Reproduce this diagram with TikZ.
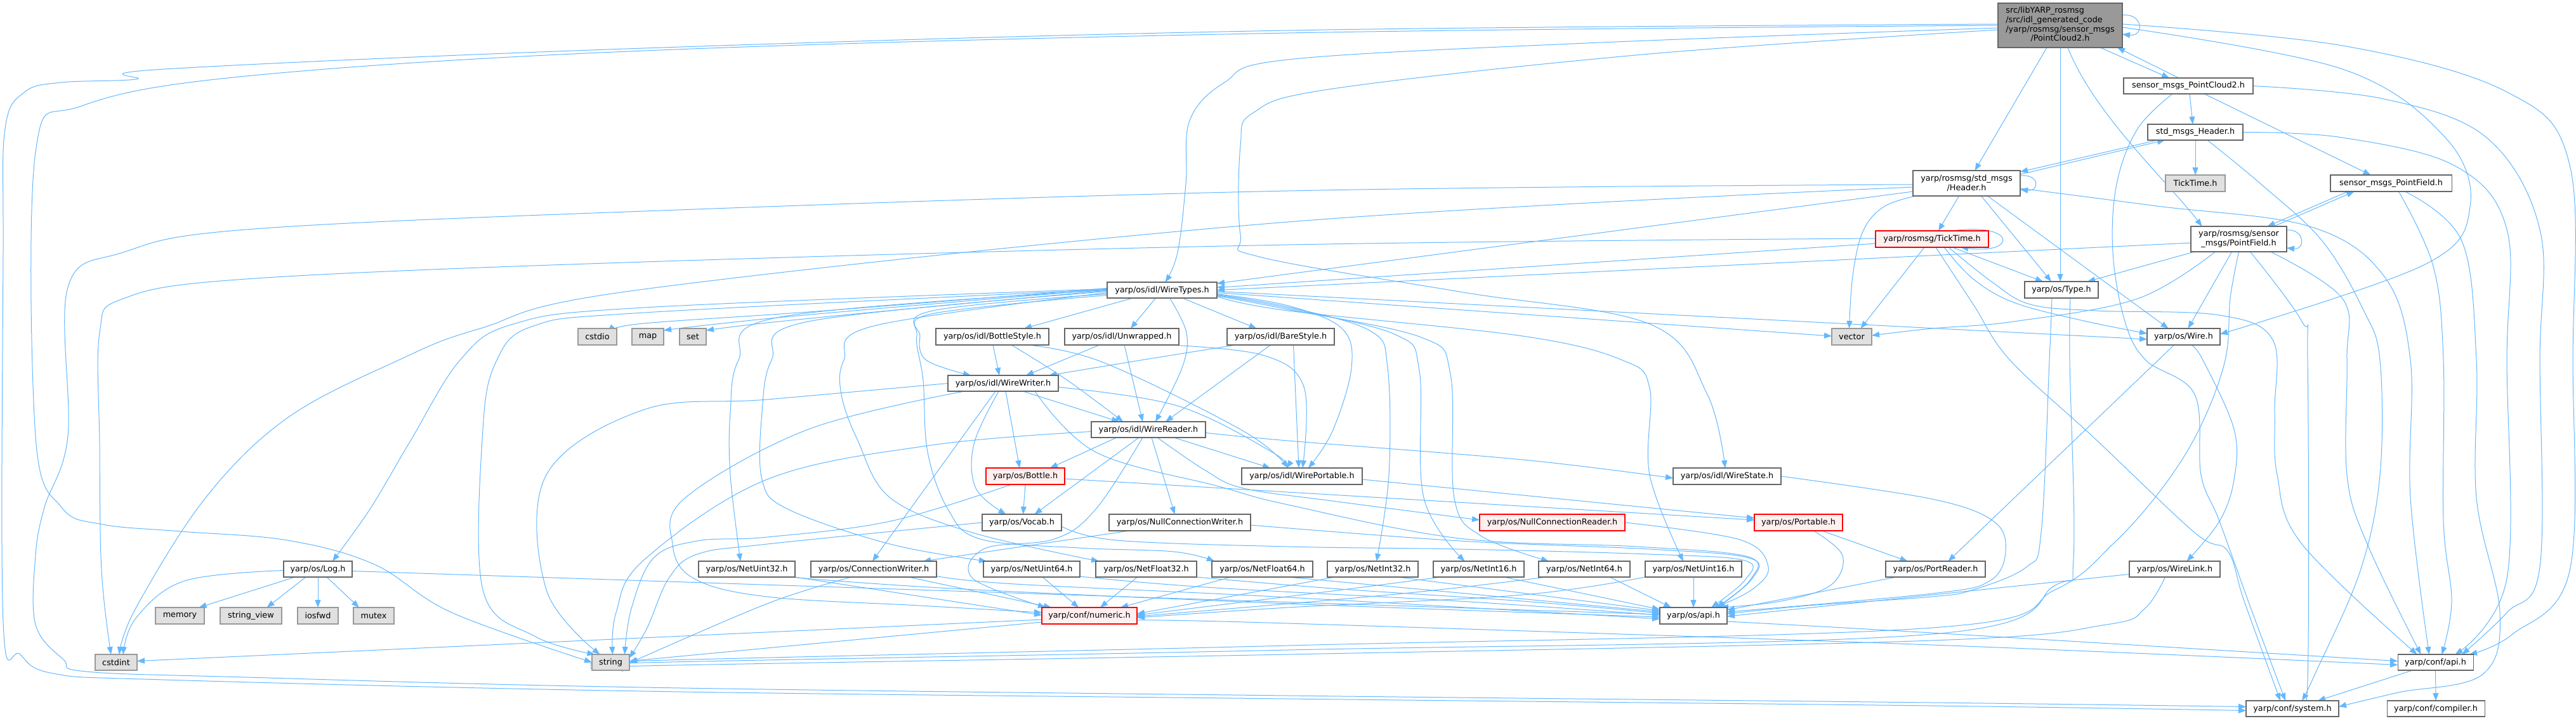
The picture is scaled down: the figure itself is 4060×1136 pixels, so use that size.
\documentclass[tikz,border=0pt]{standalone}
\usepackage{fontspec}
\setmainfont{DejaVu Sans}
\usetikzlibrary{arrows.meta,backgrounds}
\definecolor{eblue}{HTML}{63B8FF}
\definecolor{bgray}{HTML}{666666}
\definecolor{lgray}{HTML}{999999}
\definecolor{fgray}{HTML}{E0E0E0}
\definecolor{fred}{HTML}{FFF0F0}
\definecolor{rborder}{HTML}{FF0000}
\begin{document}
\begin{tikzpicture}[x=1pt,y=-1pt,
  base/.style={draw=bgray, line width=1.1pt, inner sep=0pt, outer sep=0pt, font=\fontsize{12.8}{14.7}\selectfont, text=black},
  nb/.style={base, fill=white},
  ng/.style={base, draw=lgray, fill=fgray},
  nr/.style={base, draw=rborder, fill=fred},
  nm/.style={base, fill=lgray},
  ed/.style={draw=eblue, line width=1pt, -{Triangle[length=12pt,width=9pt]}}]
\useasboundingbox (0,0) rectangle (4060,1136);
% ---------------- nodes
\node[nm, minimum width=196pt, minimum height=70pt] (M) at (3247,40) {\begin{tabular}{@{}l@{}}src/libYARP\_rosmsg\\/src/idl\_generated\_code\\/yarp/rosmsg/sensor\_msgs\\\multicolumn{1}{@{}c@{}}{/PointCloud2.h}\end{tabular}};
\node[nb, minimum width=204pt, minimum height=25pt] (SPC) at (3449,135.5) {sensor\_msgs\_PointCloud2.h};
\node[nb, minimum width=150pt, minimum height=25pt] (SH) at (3460,208.5) {std\_msgs\_Header.h};
\node[nb, minimum width=169pt, minimum height=40pt, align=center] (HDR) at (3099.5,289) {yarp/rosmsg/std\_msgs\\/Header.h};
\node[ng, minimum width=94pt, minimum height=26pt] (TKg) at (3460,289) {TickTime.h};
\node[nb, minimum width=191pt, minimum height=26pt] (SPF) at (3768.5,289) {sensor\_msgs\_PointField.h};
\node[nr, minimum width=178pt, minimum height=26pt] (TT) at (3045,377) {yarp/rosmsg/TickTime.h};
\node[nb, minimum width=151pt, minimum height=40pt, align=center] (PF) at (3528.5,377) {yarp/rosmsg/sensor\\\_msgs/PointField.h};
\node[nb, minimum width=116pt, minimum height=26pt] (Type) at (3249,457) {yarp/os/Type.h};
\node[nb, minimum width=173pt, minimum height=25pt] (WT) at (1831.5,457.5) {yarp/os/idl/WireTypes.h};
\node[nb, minimum width=115pt, minimum height=26pt] (Wire) at (3441.5,531) {yarp/os/Wire.h};
\node[ng, minimum width=63pt, minimum height=26pt] (vector) at (2918.5,531) {vector};
\node[nb, minimum width=169pt, minimum height=26pt] (BareStyle) at (2018.5,531) {yarp/os/idl/BareStyle.h};
\node[nb, minimum width=180pt, minimum height=26pt] (Unwrapped) at (1768,531) {yarp/os/idl/Unwrapped.h};
\node[nb, minimum width=178pt, minimum height=26pt] (BottleStyle) at (1564,531) {yarp/os/idl/BottleStyle.h};
\node[ng, minimum width=42pt, minimum height=26pt] (set) at (1092,531) {set};
\node[ng, minimum width=50pt, minimum height=26pt] (map) at (1021,531) {map};
\node[ng, minimum width=61pt, minimum height=26pt] (cstdio) at (941.5,531) {cstdio};
\node[nb, minimum width=174pt, minimum height=25pt] (WW) at (1581,604.5) {yarp/os/idl/WireWriter.h};
\node[nb, minimum width=180pt, minimum height=25pt] (WR) at (1810,677.5) {yarp/os/idl/WireReader.h};
\node[nr, minimum width=124pt, minimum height=26pt] (Bottle) at (1616,751) {yarp/os/Bottle.h};
\node[nb, minimum width=190pt, minimum height=26pt] (WP) at (2052,751) {yarp/os/idl/WirePortable.h};
\node[nb, minimum width=170pt, minimum height=26pt] (WS) at (2722,751) {yarp/os/idl/WireState.h};
\node[nb, minimum width=125pt, minimum height=26pt] (Vocab) at (1610.5,824) {yarp/os/Vocab.h};
\node[nb, minimum width=223pt, minimum height=26pt] (NCW) at (1859.5,824) {yarp/os/NullConnectionWriter.h};
\node[nr, minimum width=229pt, minimum height=26pt] (NCR) at (2446.5,824) {yarp/os/NullConnectionReader.h};
\node[nr, minimum width=139pt, minimum height=26pt] (Portable) at (2834.5,824) {yarp/os/Portable.h};
\node[nb, minimum width=108pt, minimum height=25pt] (Log) at (501,897.5) {yarp/os/Log.h};
\node[nb, minimum width=152pt, minimum height=25pt] (NetUint32) at (1177,897.5) {yarp/os/NetUint32.h};
\node[nb, minimum width=198pt, minimum height=25pt] (CW) at (1377,897.5) {yarp/os/ConnectionWriter.h};
\node[nb, minimum width=152pt, minimum height=25pt] (NetUint64) at (1626,897.5) {yarp/os/NetUint64.h};
\node[nb, minimum width=159pt, minimum height=25pt] (NetFloat32) at (1806.5,897.5) {yarp/os/NetFloat32.h};
\node[nb, minimum width=159pt, minimum height=25pt] (NetFloat64) at (1989.5,897.5) {yarp/os/NetFloat64.h};
\node[nb, minimum width=143pt, minimum height=25pt] (NetInt32) at (2163.5,897.5) {yarp/os/NetInt32.h};
\node[nb, minimum width=143pt, minimum height=25pt] (NetInt16) at (2330.5,897.5) {yarp/os/NetInt16.h};
\node[nb, minimum width=144pt, minimum height=25pt] (NetInt64) at (2497,897.5) {yarp/os/NetInt64.h};
\node[nb, minimum width=152pt, minimum height=25pt] (NetUint16) at (2669,897.5) {yarp/os/NetUint16.h};
\node[nb, minimum width=157pt, minimum height=25pt] (PortReader) at (3050.5,897.5) {yarp/os/PortReader.h};
\node[nb, minimum width=143pt, minimum height=25pt] (WireLink) at (3427.5,897.5) {yarp/os/WireLink.h};
\node[ng, minimum width=77pt, minimum height=26pt] (memory) at (283.5,971) {memory};
\node[ng, minimum width=97pt, minimum height=26pt] (stringview) at (395.5,971) {string\_view};
\node[ng, minimum width=64pt, minimum height=26pt] (iosfwd) at (501,971) {iosfwd};
\node[ng, minimum width=64pt, minimum height=26pt] (mutex) at (589,971) {mutex};
\node[nr, minimum width=150pt, minimum height=26pt] (numeric) at (1717,971) {yarp/conf/numeric.h};
\node[nb, minimum width=106pt, minimum height=26pt] (osapi) at (2669,971) {yarp/os/api.h};
\node[ng, minimum width=66pt, minimum height=25pt] (cstdint) at (183,1044.5) {cstdint};
\node[ng, minimum width=59pt, minimum height=25pt] (string) at (962.5,1044.5) {string};
\node[nb, minimum width=119pt, minimum height=25pt] (confapi) at (3838.5,1044.5) {yarp/conf/api.h};
\node[nb, minimum width=146pt, minimum height=25pt] (system) at (3613,1117.5) {yarp/conf/system.h};
\node[nb, minimum width=154pt, minimum height=25pt] (compiler) at (3839,1117.5) {yarp/conf/compiler.h};
% ---------------- edges
\begin{pgfonlayer}{background}
\fill[white] (0,0) rectangle (4060,1136);
% main
\draw[ed] ([yshift=-19pt]M.north east) .. controls (3378,20) and (3380,58) .. ([yshift=21pt]M.south east);
\draw[ed] ([xshift=63pt]M.south) -- ([xshift=-30pt]SPC.north);
\draw[ed] ([xshift=-15pt]SPC.north) -- ([xshift=90pt]M.south);
\draw[ed] ([xshift=-21pt]M.south) -- ([xshift=13pt]HDR.north);
\draw[ed] (M.south) -- ([xshift=-2pt]Type.north);
\draw[ed] ([xshift=12pt]M.south) .. controls (3300,180) and (3420,290) .. ([xshift=-58pt]PF.north);
\draw[ed] plot[smooth,tension=0.6] coordinates {([yshift=-3pt]M.east) (3692,109) (3854,217) (3893,326) (3822,417) ([yshift=4pt]Wire.east)};
\draw[ed] plot[smooth,tension=0.6] coordinates {([yshift=2pt]M.east) (3692,72) (3951,145) (4050,260) (4055,568) (4050,900) (3960,1000) ([xshift=-6pt]confapi.north east)};
\draw[ed] plot[smooth,tension=0.6] coordinates {([yshift=-4pt]M.west) (2500,68) (2030,94) (1930,130) (1875,190) (1869,290) (1856,398) ([xshift=5pt]WT.north)};
\draw[ed] plot[smooth,tension=0.6] coordinates {([yshift=-7pt]M.west) (2600,85) (2100,140) (1975,178) (1955,230) (1955,370) (1985,405) (2300,460) (2600,511) (2690,620) ([xshift=-3pt]WS.north)};
\draw[ed] plot[smooth,tension=0.6] coordinates {(M.west) (2030,52) (1015,80) (388,120) (129,167) (56,240) (56,688) (97,800) (162,827) (285,838) (453,852) (590,890) (712,966) (string.west)};
\draw[ed] plot[smooth,tension=0.6] coordinates {([yshift=2pt]M.west) (2030,48) (1015,76) (259,109) (214,125) (97,130) (39,145) (8,203) (5,400) (5,981) (32,1032) (84,1062) (259,1072) (1015,1090) (2030,1102) (3045,1113) ([yshift=-3pt]system.west)};
% SPC
\draw[ed] ([xshift=2pt]SPC.south) -- ([xshift=-4pt]SH.north);
\draw[ed] ([xshift=25pt]SPC.south) -- ([xshift=-32pt]SPF.north);
\draw[ed] plot[smooth,tension=0.6] coordinates {([xshift=-25pt]SPC.south) (3369,203) (3336,290) (3330,398) (3349,507) (3382,568) (3459,622) (3469,749) (3498,822) (3550,966) ([xshift=-11pt]system.north)};
\draw[ed] plot[smooth,tension=0.6] coordinates {(SPC.east) (3757,156) (3919,217) (4003,362) (4003,568) (4003,894) (3951,966) ([xshift=42pt]confapi.north)};
% SH
\draw[ed] ([xshift=-60pt]SH.south) -- ([yshift=-2pt]HDR.north east);
\draw[ed] ([yshift=-6pt]HDR.north east) -- ([xshift=-48pt]SH.south);
\draw[ed] (SH.south) -- (TKg.north);
\draw[ed] plot[smooth,tension=0.6] coordinates {([xshift=19pt]SH.south) (3563,290) (3660,380) (3725,489) (3751,568) (3751,749) (3720,900) (3650,1060) ([xshift=15pt]system.north)};
\draw[ed] plot[smooth,tension=0.6] coordinates {(SH.east) (3692,217) (3870,262) (3951,362) (3951,568) (3951,912) ([xshift=31pt]confapi.north)};
% SPF
\draw[ed] ([xshift=-68pt]SPF.south) -- ([xshift=45pt]PF.north);
\draw[ed] ([xshift=55pt]PF.north) -- ([xshift=-58pt]SPF.south);
\draw[ed] plot[smooth,tension=0.6] coordinates {([xshift=12pt]SPF.south) (3835,420) (3851,568) (3851,822) (3864,948) ([xshift=10pt]confapi.north)};
\draw[ed] plot[smooth,tension=0.6] coordinates {([xshift=22pt]SPF.south) (3880,380) (3903,568) (3903,785) (3940,966) (3912,1064) (3780,1092) ([yshift=3pt]system.east)};
% HDR
\draw[ed] ([yshift=-8pt]HDR.north east) .. controls (3215,274) and (3215,302) .. ([yshift=10pt]HDR.south east);
\draw[ed] ([xshift=-12pt]HDR.south) -- ([xshift=10pt]TT.north);
\draw[ed] ([xshift=23pt]HDR.south) -- ([xshift=-16pt]Type.north);
\draw[ed] ([xshift=33pt]HDR.south) -- ([xshift=-24pt]Wire.north);
\draw[ed] plot[smooth,tension=0.6] coordinates {([xshift=-80pt]HDR.south) (2969,326) (2936,365) (2920,435) ([xshift=-4pt]vector.north)};
\draw[ed] plot[smooth,tension=0.6] coordinates {([yshift=-8pt]HDR.east) (3400,325) (3640,357) (3757,435) (3799,568) (3799,785) ([xshift=-10pt]confapi.north)};
\draw[ed] plot[smooth,tension=0.6] coordinates {([yshift=-2pt]HDR.west) (2030,301) (1015,333) (388,362) (194,398) (107,453) (107,688) (70,800) (56,876) (56,985) (100,1040) (136,1059) (388,1068) (1015,1084) (2030,1097) (3045,1108) ([yshift=3pt]system.west)};
\draw[ed] plot[smooth,tension=0.6] coordinates {([yshift=-6pt]HDR.west) (2030,350) (1015,456) (757,518) (628,568) (453,659) (324,785) (214,959) ([xshift=5pt]cstdint.north)};
\draw[ed] ([yshift=-13pt]HDR.west) -- ([yshift=-2pt]WT.north east);
% TT
\draw[ed] ([xshift=32pt]TT.north) .. controls (3178,350) and (3180,402) .. ([xshift=45pt]TT.south);
\draw[ed] ([xshift=-12pt]TT.south) -- ([xshift=14pt]vector.north);
\draw[ed] ([xshift=32pt]TT.south) -- ([xshift=-29pt]Type.north);
\draw[ed] plot[smooth,tension=0.6] coordinates {([xshift=19pt]TT.south) (3110,440) (3174,477) (3280,505) ([yshift=5pt]Wire.west)};
\draw[ed] plot[smooth,tension=0.6] coordinates {([xshift=6pt]TT.south) (3110,480) (3168,568) (3300,690) (3459,840) (3511,869) (3537,948) ([xshift=-19pt]system.north)};
\draw[ed] plot[smooth,tension=0.6] coordinates {([xshift=26pt]TT.south) (3140,445) (3200,480) (3304,490) (3498,497) (3582,536) (3585,650) (3589,749) (3628,858) ([xshift=-29pt]confapi.north)};
\draw[ed] plot[smooth,tension=0.6] coordinates {([yshift=1pt]TT.west) (2030,386) (1015,413) (388,440) (194,471) (157,525) (157,700) (160,900) ([xshift=-8pt]cstdint.north)};
\draw[ed] ([yshift=-7pt]TT.west) -- ([yshift=4pt]WT.east);
% PF
\draw[ed] ([yshift=-6pt]PF.north east) .. controls (3632,360) and (3634,394) .. ([yshift=6pt]PF.south east);
\draw[ed] ([xshift=-70pt]PF.south) -- ([xshift=41pt]Type.north);
\draw[ed] ([xshift=-11pt]PF.south) -- ([xshift=7pt]Wire.north);
\draw[ed] plot[smooth,tension=0.6] coordinates {([xshift=-37pt]PF.south) (3369,471) (3174,507) (3045,518) ([yshift=2pt]vector.east)};
\draw[ed] ([yshift=-6pt]PF.west) -- (WT.east);
\draw[ed] plot[smooth,tension=0.6] coordinates {(PF.south) (3515,470) (3507,568) (3466,677) (3407,771) (3330,858) (3239,930) (3045,990) (2030,1018) (1015,1042) ([yshift=-4pt]string.east)};
\draw[ed] plot[smooth,tension=0.6] coordinates {([xshift=18pt]PF.south) (3628,507) (3637,568) (3637,1075) ([xshift=8pt]system.north)};
\draw[ed] plot[smooth,tension=0.6] coordinates {([xshift=50pt]PF.south) (3692,471) (3699,568) (3699,749) (3731,858) ([xshift=-23pt]confapi.north)};
% Type
\draw[ed] plot[smooth,tension=0.6] coordinates {([xshift=-15pt]Type.south) (3230,568) (3217,840) (3194,894) (3110,930) (3045,941) (2850,955) ([yshift=3pt]osapi.east)};
\draw[ed] plot[smooth,tension=0.6] coordinates {([xshift=14pt]Type.south) (3262,568) (3268,880) (3239,923) (3045,1000) (2030,1025) (1015,1045) ([yshift=-7pt]string.east)};
% Wire
\draw[ed] ([xshift=-15pt]Wire.south) -- ([xshift=20pt]PortReader.north);
\draw[ed] plot[smooth,tension=0.6] coordinates {([xshift=12pt]Wire.south) (3472,568) (3521,677) (3521,756) (3498,822) ([xshift=19pt]WireLink.north)};
% WireLink
\draw[ed] ([yshift=-8pt]WireLink.west) -- ([yshift=-1pt]osapi.east);
\draw[ed] plot[smooth,tension=0.6] coordinates {([xshift=-15pt]WireLink.south) (3380,960) (3320,985) (3045,1010) (2030,1032) (1015,1050) ([yshift=-10pt]string.east)};
% PortReader, Portable, WS, NCR, WP
\draw[ed] ([xshift=-62pt]PortReader.south) -- ([yshift=9pt]osapi.east);
\draw[ed] ([xshift=37pt]Portable.south) -- ([xshift=-44pt]PortReader.north);
\draw[ed] plot[smooth,tension=0.6] coordinates {([xshift=24pt]Portable.south) (2904,876) (2885,923) (2807,948) ([xshift=-10pt]osapi.north east)};
\draw[ed] plot[smooth,tension=0.6] coordinates {(WS.east) (3045,787) (3142,822) (3161,869) (3136,916) (3045,936) ([yshift=6pt]osapi.east)};
\draw[ed] plot[smooth,tension=0.6] coordinates {(NCR.east) (2742,851) (2787,894) (2761,930) ([xshift=34pt]osapi.north)};
\draw[ed] ([yshift=-5pt]WP.east) -- ([yshift=7pt]Portable.west);
% Bottle
\draw[ed] (Bottle.south) -- ([xshift=2pt]Vocab.north);
\draw[ed] ([yshift=-4pt]Bottle.east) -- ([yshift=4pt]Portable.west);
\draw[ed] plot[smooth,tension=0.6] coordinates {([xshift=-22pt]Bottle.south) (1403,822) (1209,847) (1099,853) (1030,880) (995,960) ([xshift=22pt]string.north)};
% Vocab
\draw[ed] plot[smooth,tension=0.6] coordinates {(Vocab.west) (1209,858) (1099,874) (1054,912) (1020,990) ([yshift=7pt]string.east)};
\draw[ed] plot[smooth,tension=0.6] coordinates {([yshift=-6pt]Vocab.east) (1760,852) (2030,862) (2300,866) (2600,874) (2750,884) (2750,915) ([xshift=28pt]osapi.north)};
% NCW
\draw[ed] ([xshift=-80pt]NCW.south) -- ([xshift=78pt]CW.north);
\draw[ed] plot[smooth,tension=0.6] coordinates {([yshift=-4pt]NCW.east) (2300,853) (2600,866) (2757,880) (2762,912) ([xshift=38pt]osapi.north)};
% CW
\draw[ed] ([xshift=55pt]CW.south) -- ([xshift=-60pt]numeric.north);
\draw[ed] plot[smooth,tension=0.6] coordinates {([xshift=-35pt]CW.south) (1209,952) ([yshift=-1pt]string.east)};
\draw[ed] plot[smooth,tension=0.6] coordinates {([yshift=-11pt]CW.east) (1600,921) (2030,942) ([yshift=-5pt]osapi.west)};
% Net*
\draw[ed] (NetUint32.south east) -- ([yshift=1pt]numeric.west);
\draw[ed] plot[smooth,tension=0.6] coordinates {([xshift=-8pt]NetUint32.south east) (1500,928) (2030,952) ([yshift=-2pt]osapi.west)};
\draw[ed] ([xshift=17pt]NetUint64.south) -- ([xshift=-17pt]numeric.north);
\draw[ed] plot[smooth,tension=0.6] coordinates {([yshift=1pt]NetUint64.south east) (1900,926) (2300,948) ([yshift=1pt]osapi.west)};
\draw[ed] ([xshift=-14pt]NetFloat32.south) -- ([xshift=17pt]numeric.north);
\draw[ed] plot[smooth,tension=0.6] coordinates {(NetFloat32.south east) (2100,928) (2400,948) ([yshift=4pt]osapi.west)};
\draw[ed] ([xshift=-50pt]NetFloat64.south) -- ([xshift=49pt]numeric.north);
\draw[ed] plot[smooth,tension=0.6] coordinates {([xshift=40pt]NetFloat64.south) (2300,935) ([yshift=6pt]osapi.west)};
\draw[ed] ([xshift=-60pt]NetInt32.south) -- ([yshift=3pt]numeric.east);
\draw[ed] ([xshift=40pt]NetInt32.south) -- ([yshift=8pt]osapi.west);
\draw[ed] plot[smooth,tension=0.6] coordinates {([xshift=-60pt]NetInt16.south) (2100,932) ([yshift=1pt]numeric.east)};
\draw[ed] ([xshift=40pt]NetInt16.south) -- ([yshift=10pt]osapi.west);
\draw[ed] plot[smooth,tension=0.6] coordinates {([xshift=-60pt]NetInt64.south) (2200,937) ([yshift=-1pt]numeric.east)};
\draw[ed] ([xshift=40pt]NetInt64.south) -- ([xshift=-35pt]osapi.north);
\draw[ed] plot[smooth,tension=0.6] coordinates {(NetUint16.south west) (2400,938) (2030,958) ([yshift=-3pt]numeric.east)};
\draw[ed] (NetUint16.south) -- (osapi.north);
% numeric, osapi, confapi
\draw[ed] ([yshift=-6pt]numeric.west) -- ([yshift=2pt]cstdint.east);
\draw[ed] ([yshift=-10pt]numeric.west) -- ([yshift=2pt]string.east);
\draw[ed] plot[smooth,tension=0.6] coordinates {([yshift=6pt]numeric.south east) (2030,983) (3045,1017) ([yshift=-4pt]confapi.west)};
\draw[ed] plot[smooth,tension=0.6] coordinates {([yshift=4pt]osapi.south east) (3045,998) ([yshift=2pt]confapi.west)};
\draw[ed] ([xshift=-36pt]confapi.south) -- ([xshift=40pt]system.north);
\draw[ed] (confapi.south) -- (compiler.north);
% Log
\draw[ed] ([xshift=-36pt]Log.south) -- ([xshift=30pt]memory.north);
\draw[ed] ([xshift=-19pt]Log.south) -- ([xshift=25pt]stringview.north);
\draw[ed] (Log.south) -- (iosfwd.north);
\draw[ed] ([xshift=14pt]Log.south) -- ([xshift=-23pt]mutex.north);
\draw[ed] plot[smooth,tension=0.6] coordinates {([yshift=-2pt]Log.west) (291,916) (214,975) ([xshift=11pt]cstdint.north)};
\draw[ed] ([yshift=-3pt]Log.east) -- ([yshift=2pt]osapi.west);
% WireTypes
\draw[ed] ([xshift=-46pt]WT.south) -- ([xshift=50pt]BottleStyle.north);
\draw[ed] ([xshift=-10pt]WT.south) -- ([xshift=14pt]Unwrapped.north);
\draw[ed] ([xshift=32pt]WT.south) -- ([xshift=-38pt]BareStyle.north);
\draw[ed] plot[smooth,tension=0.6] coordinates {([xshift=12pt]WT.south) (1870,525) (1863,580) ([xshift=11pt]WR.north)};
\draw[ed] plot[smooth,tension=0.6] coordinates {([yshift=-8pt]WT.west) (1468,495) (1450,530) (1460,568) ([xshift=-51pt]WW.north)};
\draw[ed] plot[smooth,tension=0.6] coordinates {([yshift=-6pt]WT.west) (1470,490) (1445,530) (1455,600) (1462,713) (1494,803) (1545,850) (1700,864) (1850,870) ([xshift=4pt]NetFloat64.north west)};
\draw[ed] plot[smooth,tension=0.6] coordinates {([yshift=-4pt]WT.west) (1377,514) (1330,568) (1326,622) (1352,695) (1403,785) (1533,840) ([xshift=5pt]NetFloat32.north west)};
\draw[ed] plot[smooth,tension=0.6] coordinates {([yshift=-2pt]WT.west) (1274,507) (1216,568) (1201,650) (1201,756) (1242,803) (1403,858) ([xshift=5pt]NetUint64.north west)};
\draw[ed] plot[smooth,tension=0.6] coordinates {(WT.west) (1229,500) (1164,568) (1151,650) (1151,749) ([xshift=-10pt]NetUint32.north)};
\draw[ed] plot[smooth,tension=0.6] coordinates {([yshift=2pt]WT.west) (1015,485) (809,511) (725,568) (647,695) (583,803) ([xshift=23pt]Log.north)};
\draw[ed] plot[smooth,tension=0.6] coordinates {([yshift=1pt]WT.west) (1015,493) (841,514) (783,568) (761,677) (761,930) (842,1003) ([xshift=-25pt]string.north)};
\draw[ed] plot[smooth,tension=0.6] coordinates {([yshift=3pt]WT.west) (1300,490) (1015,510) ([yshift=-3pt]cstdio.north east)};
\draw[ed] plot[smooth,tension=0.6] coordinates {([yshift=1.5pt]WT.west) (1300,494) (1120,512) ([yshift=-3pt]map.north east)};
\draw[ed] plot[smooth,tension=0.6] coordinates {([yshift=-0.5pt]WT.west) (1400,490) (1200,510) ([yshift=-3pt]set.north east)};
\draw[ed] plot[smooth,tension=0.6] coordinates {([yshift=-6pt]WT.east) (2030,482) (2115,518) (2130,580) (2100,680) ([xshift=10pt]WP.north)};
\draw[ed] plot[smooth,tension=0.6] coordinates {([yshift=-7pt]WT.east) (2030,484) (2160,522) (2187,580) (2189,749) ([xshift=6pt]NetInt32.north)};
\draw[ed] plot[smooth,tension=0.6] coordinates {([yshift=-8pt]WT.east) (2030,486) (2200,528) (2237,585) (2244,785) ([xshift=-22pt]NetInt16.north)};
\draw[ed] plot[smooth,tension=0.6] coordinates {([yshift=-9pt]WT.east) (2030,488) (2240,532) (2286,590) (2292,785) (2334,845) ([xshift=-56pt]NetInt64.north)};
\draw[ed] plot[smooth,tension=0.6] coordinates {([yshift=-10pt]WT.east) (2030,490) (2400,530) (2557,568) (2600,612) (2600,749) ([xshift=-16pt]NetUint16.north)};
\draw[ed] ([yshift=-4pt]WT.east) -- ([yshift=1pt]vector.west);
\draw[ed] ([yshift=-2pt]WT.east) -- ([yshift=-4pt]Wire.west);
% styles
\draw[ed] ([xshift=1pt]BottleStyle.south) -- ([xshift=-6pt]WW.north);
\draw[ed] plot[smooth,tension=0.6] coordinates {([xshift=30pt]BottleStyle.south) (1680,598) ([xshift=-40pt]WR.north)};
\draw[ed] plot[smooth,tension=0.6] coordinates {([xshift=56pt]BottleStyle.south) (1740,572) (1960,680) ([xshift=-22pt]WP.north)};
\draw[ed] ([xshift=-35pt]Unwrapped.south) -- ([xshift=36pt]WW.north);
\draw[ed] ([xshift=4pt]Unwrapped.south) -- ([xshift=-9pt]WR.north);
\draw[ed] plot[smooth,tension=0.6] coordinates {([xshift=75pt]Unwrapped.south) (1990,560) (2055,610) ([xshift=1pt]WP.north)};
\draw[ed] plot[smooth,tension=0.6] coordinates {([xshift=-71pt]BareStyle.south) (1798,568) ([xshift=72pt]WW.north)};
\draw[ed] ([xshift=-16pt]BareStyle.south) -- ([xshift=27pt]WR.north);
\draw[ed] ([xshift=20pt]BareStyle.south) -- ([xshift=-5pt]WP.north);
% WireWriter
\draw[ed] ([xshift=31pt]WW.south) -- ([xshift=-46pt]WR.north);
\draw[ed] ([xshift=4pt]WW.south) -- ([xshift=-9pt]Bottle.north);
\draw[ed] plot[smooth,tension=0.6] coordinates {([xshift=-7pt]WW.south) (1535,700) (1538,770) ([xshift=-25pt]Vocab.north)};
\draw[ed] ([xshift=-12pt]WW.south) -- ([xshift=-2pt]CW.north);
\draw[ed] plot[smooth,tension=0.6] coordinates {([yshift=-6pt]WW.east) (1856,640) (2005,713) ([xshift=-24pt]WP.north)};
\draw[ed] plot[smooth,tension=0.6] coordinates {(WW.west) (1209,630) (1015,646) (861,749) (861,930) ([xshift=-17pt]string.north)};
\draw[ed] plot[smooth,tension=0.6] coordinates {([xshift=-61pt]WW.south) (1274,677) (1080,785) (1060,858) (1093,912) (1209,941) (1450,955) ([yshift=5pt]numeric.west)};
\draw[ed] plot[smooth,tension=0.6] coordinates {([xshift=50pt]WW.south) (1727,713) (1921,767) (2030,796) (2300,849) (2580,862) (2755,878) (2758,915) ([xshift=36pt]osapi.north)};
% WireReader
\draw[ed] ([xshift=-50pt]WR.south) -- ([xshift=39pt]Bottle.north);
\draw[ed] ([xshift=-15pt]WR.south) -- ([xshift=20pt]Vocab.north);
\draw[ed] ([xshift=5pt]WR.south) -- ([xshift=-8pt]NCW.north);
\draw[ed] ([xshift=40pt]WR.south) -- ([xshift=-50pt]WP.north);
\draw[ed] plot[smooth,tension=0.6] coordinates {([yshift=-5pt]WR.east) (2030,695) (2400,725) ([yshift=-3pt]WS.west)};
\draw[ed] plot[smooth,tension=0.6] coordinates {([xshift=14pt]WR.south) (1900,742) (1960,770) (2100,790) ([yshift=4pt]NCR.west)};
\draw[ed] plot[smooth,tension=0.6] coordinates {([xshift=-9pt]WR.south) (1727,803) (1662,850) (1552,865) (1533,912) ([xshift=-69pt]numeric.north)};
\draw[ed] plot[smooth,tension=0.6] coordinates {([yshift=-3pt]WR.west) (1468,702) (1209,756) (1015,883) (971,966) ([xshift=3pt]string.north)};
\end{pgfonlayer}
\end{tikzpicture}
\end{document}
